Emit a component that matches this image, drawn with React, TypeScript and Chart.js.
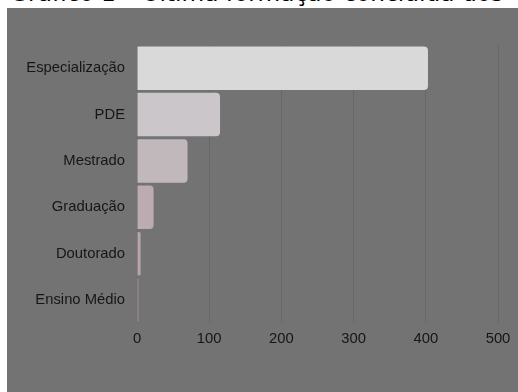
import React, { useEffect, useRef } from "react";
import { Chart, registerables } from "chart.js";

Chart.register(...registerables);

const categories = ["Especialização", "PDE", "Mestrado", "Graduação", "Doutorado", "Ensino Médio"];
const values = [403, 115, 70, 23, 5, 2];
const barColors = ["#d9d9d9", "#cbc6ca", "#c1b8bc", "#bcabb0", "#b7a5aa", "#a8969b"];
const xTicks = [0, 100, 200, 300, 400, 500];
const titleText = "Gráfico 1 – Última formação concluída dos";

export default function App() {
  const ref = useRef<HTMLCanvasElement | null>(null);

  useEffect(() => {
    document.body.style.margin = "0";
    const canvas = ref.current;
    if (!canvas) return;
    const font = { family: "'Liberation Sans', Arial, sans-serif", size: 14.8 };
    const chart = new Chart(canvas, {
      type: "bar",
      data: {
        labels: categories,
        datasets: [
          {
            data: values,
            backgroundColor: barColors,
            borderWidth: 0,
            borderRadius: 4,
            barPercentage: 1,
            categoryPercentage: 0.94,
          },
        ],
      },
      options: {
        indexAxis: "y",
        responsive: false,
        animation: false,
        maintainAspectRatio: false,
        layout: { padding: { top: 37, right: 20, bottom: 37, left: 0 } },
        plugins: { legend: { display: false }, tooltip: { enabled: false }, title: { display: false } },
        scales: {
          x: {
            min: 0,
            max: 500,
            afterBuildTicks: (scale: any) => {
              scale.ticks = xTicks.map((v) => ({ value: v }));
            },
            grid: { color: "#686868", drawTicks: false, lineWidth: 1 },
            border: { display: false },
            ticks: { color: "#161616", font, padding: 7 },
          },
          y: {
            grid: { display: false, drawTicks: false },
            border: { display: false },
            ticks: { color: "#161616", font, padding: 12 },
            afterFit: (scale: any) => {
              scale.width = 130;
            },
          },
        },
      },
    });
    return () => chart.destroy();
  }, []);

  return (
    <div style={{ position: "relative", width: 518, height: 392, overflow: "hidden", background: "#ffffff" }}>
      <div
        style={{
          position: "absolute",
          left: 10,
          top: -21,
          whiteSpace: "nowrap",
          fontFamily: "'DejaVu Sans', sans-serif",
          fontSize: 23.3,
          color: "#000",
          lineHeight: "28px",
        }}
      >
        {titleText}
      </div>
      <div style={{ position: "absolute", left: 7, top: 8, width: 511, height: 384, background: "#737373" }}>
        <canvas ref={ref} width={511} height={384} style={{ display: "block" }} />
      </div>
    </div>
  );
}
